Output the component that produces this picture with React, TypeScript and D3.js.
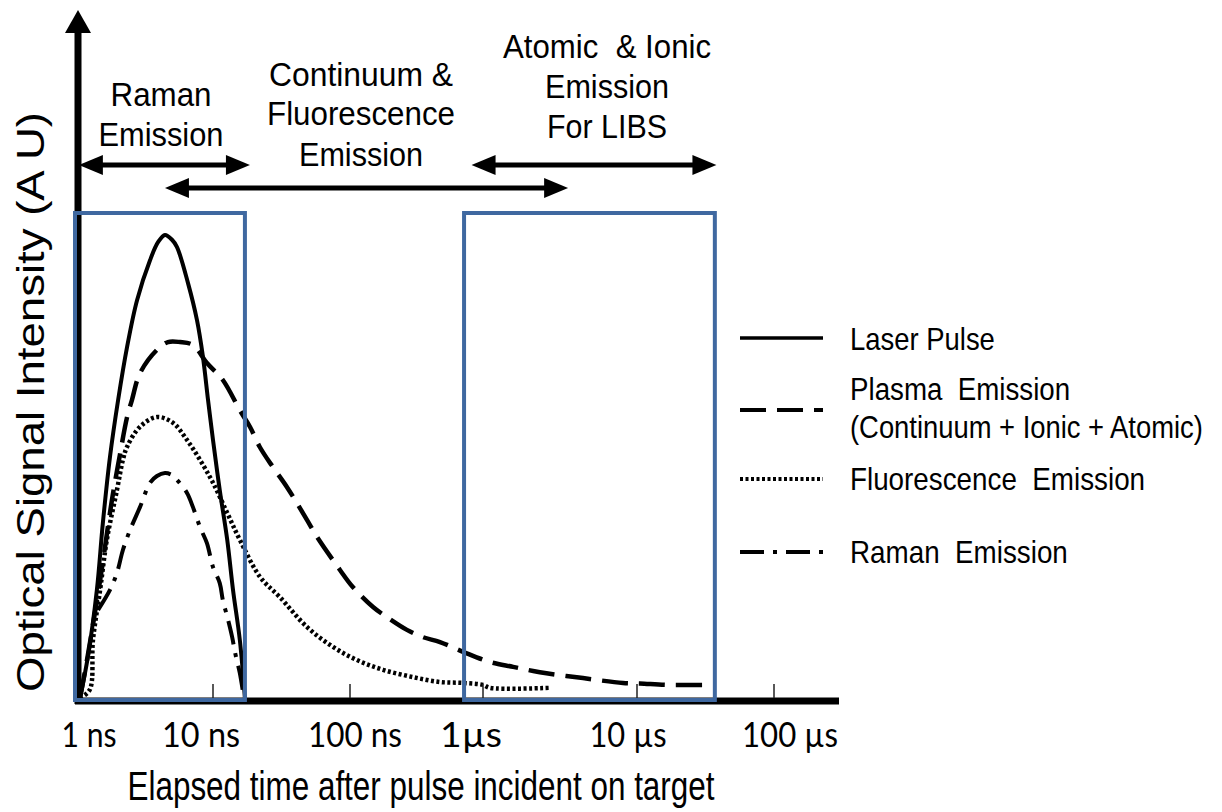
import React from "react";
import * as d3 from "d3";

// ---- data (time in ns, intensity in arbitrary units 0..100) ----
const laserPulse: [number, number][] = [
  [1.07, 0.4], [1.22, 8.8], [1.42, 22.6], [1.57, 36.3], [1.77, 49.9], [2.03, 61.6],
  [2.36, 72.5], [2.79, 82.1], [3.47, 90.3], [3.97, 94.0], [4.46, 95.5], [5.02, 94.5],
  [5.46, 93.0], [6.57, 85.6], [7.64, 78.0], [8.45, 70.4], [9.2, 61.6], [10.0, 53.4],
  [11.2, 43.1], [12.7, 32.9], [14.0, 22.6], [15.7, 12.3], [17.1, 0.4],
];
const plasmaEmission: [number, number][] = [
  [1.07, 0.4], [1.22, 9.2], [1.5, 24.6], [1.83, 41.1], [2.09, 50.3], [2.36, 58.1],
  [2.56, 61.6], [2.93, 67.1], [3.9, 71.9], [4.69, 73.5], [5.74, 73.5], [7.14, 72.9],
  [9.03, 69.2], [11.8, 65.7], [15.7, 59.5], [18.6, 56.1], [22.0, 51.9], [27.4, 47.8],
  [34.7, 43.7], [48.5, 37.0], [57.4, 33.5], [84.5, 26.7], [105, 23.2], [149, 19.1],
  [190, 17.0], [268, 14.4], [354, 12.9], [475, 11.9], [708, 9.9], [1110, 7.8],
  [1570, 6.8], [2340, 5.7], [4460, 4.5], [8110, 3.5], [10500, 3.4], [16600, 3.1],
  [34100, 3.1],
];
const fluorescenceEmission: [number, number][] = [
  [1.07, 0.4], [1.26, 2.1], [1.33, 12.3], [1.5, 22.6], [1.68, 32.9], [1.99, 43.1],
  [2.2, 49.3], [2.36, 52.0], [2.93, 56.1], [3.9, 58.1], [5.11, 56.9], [6.46, 53.4],
  [8.04, 49.3], [10, 44.6], [12.7, 38.4], [15.7, 32.9], [22.0, 25.3], [30.8, 21.1],
  [48.5, 15.0], [75.2, 10.9], [113, 8.2], [177, 6.2], [298, 4.7], [475, 3.7],
  [708, 3.5], [1000, 3.1], [1110, 2.5], [2720, 2.5],
];
const ramanEmission: [number, number][] = [
  [1.45, 18.5], [1.77, 22.6], [1.99, 26.1], [2.2, 30.8], [2.48, 34.9], [2.93, 39.6],
  [3.47, 44.6], [3.9, 46.0], [4.46, 46.6], [5.02, 46.2], [5.46, 45.2], [6.46, 42.5],
  [7.14, 39.6], [8.04, 35.5], [9.03, 32.2], [10, 27.3], [11.2, 24.0], [11.8, 20.5],
  [12.9, 16.4], [13.8, 12.9], [14.5, 9.7], [15.7, 5.5], [16.6, 1.4],
];

// gate windows (time ns) and their top intensity
const gateWindows: [number, number][] = [[1, 17.1], [733, 37000]];
const gateTop = 100;

// time-range arrows (ns)
const arrowRanges: [number, number][] = [[1.05, 18.6], [4.46, 3570], [820, 38000]];

const tickValues = [1, 10, 100, 1000, 10000, 100000];
const tickLabels = ["1 ns", "10 ns", "100 ns", "1µs", "10 µs", "100 µs"];

const annotationBlocks: string[][] = [
  ["Raman", "Emission"],
  ["Continuum &", "Fluorescence", "Emission"],
  ["Atomic  & Ionic", "Emission", "For LIBS"],
];

const legendItems = [
  { lines: ["Laser Pulse"], dash: "none" },
  { lines: ["Plasma  Emission", "(Continuum + Ionic + Atomic)"], dash: "26 11" },
  { lines: ["Fluorescence  Emission"], dash: "3 2.5" },
  { lines: ["Raman  Emission"], dash: "24 9 4 9" },
];

// ---- layout ----
const FONT = "'Liberation Sans Narrow','Arial Narrow','Liberation Sans',Arial,sans-serif";
const TICKFONT = "Lato,'Open Sans',sans-serif";
const BLUE = "#3f68a0";
const xRange = [76, 213, 350, 483, 637, 774];
const x = d3.scaleLog().domain(tickValues).range(xRange);
const y = d3.scaleLinear().domain([0, 100]).range([700, 213]);

const tickLabelOffsets = [13, -12, 5, -12, -9, 16];
const tickLabelWidths = [55, 78, 94, 62, 77, 96];

const annotCenters = [161, 361, 607];
const annotBaselines = [[106, 146], [86, 125, 166], [58, 98, 138]];
const annotWidths = [[101, 125], [184, 188, 124], [208, 124, 120]];
const arrowYs = [165, 188, 165];

const legendBaselines = [[350], [400, 438], [490], [563]];
const legendLineYs = [338, 410, 479, 552];
const legendScaleX = [[0.885], [0.894, 0.883], [0.897], [0.897]];

const curveStyles = [
  { data: laserPulse, dash: "none", w: 4 },
  { data: plasmaEmission, dash: "26 11", w: 4.5 },
  { data: fluorescenceEmission, dash: "3 2.5", w: 4.5 },
  { data: ramanEmission, dash: "24 9 4 9", w: 4 },
];

function DoubleArrow({ x1, x2, yy }: { x1: number; x2: number; yy: number }) {
  const L = 24, H = 10;
  return (
    <g>
      <line x1={x1 + L - 2} x2={x2 - L + 2} y1={yy} y2={yy} stroke="#000" strokeWidth={5} />
      <polygon points={`${x1},${yy} ${x1 + L},${yy - H} ${x1 + L},${yy + H}`} fill="#000" />
      <polygon points={`${x2},${yy} ${x2 - L},${yy - H} ${x2 - L},${yy + H}`} fill="#000" />
    </g>
  );
}

export default function App() {
  const line = d3
    .line<[number, number]>()
    .x((d) => x(d[0]))
    .y((d) => y(d[1]))
    .curve(d3.curveCatmullRom.alpha(0.5));

  return (
    <svg width={1222} height={812} style={{ position: "absolute", left: 0, top: 0, background: "#fff" }}>
      <rect width={1222} height={812} fill="#fff" />
      {/* curves */}
      {curveStyles.map((c, i) => (
        <path key={i} d={line(c.data) || ""} fill="none" stroke="#000" strokeWidth={c.w}
          strokeDasharray={c.dash} strokeLinejoin="round" />
      ))}
      {/* x axis */}
      <line x1={75} x2={839} y1={701} y2={701} stroke="#000" strokeWidth={7} />
      {tickValues.slice(1).map((t) => (
        <line key={t} x1={x(t)} x2={x(t)} y1={684} y2={698} stroke="#222" strokeWidth={1.5} />
      ))}
      {tickLabels.map((s, i) => (
        <text key={s} x={x(tickValues[i]) + tickLabelOffsets[i]} y={747} textAnchor="middle"
          fontFamily={TICKFONT} fontSize={35} fill="#000"
          textLength={tickLabelWidths[i]} lengthAdjust="spacingAndGlyphs">{s}</text>
      ))}
      {/* y axis */}
      <line x1={78} x2={78} y1={704} y2={30} stroke="#000" strokeWidth={7} />
      <polygon points={`78,10 65,33 91,33`} fill="#000" />
      {/* gate boxes */}
      {gateWindows.map(([a, b], i) => (
        <rect key={i} x={x(a) - 1} y={y(gateTop)} width={x(b) - x(a) + 1} height={y(0) - y(gateTop)}
          fill="none" stroke={BLUE} strokeWidth={4} />
      ))}
      {/* range arrows */}
      {arrowRanges.map(([a, b], i) => (
        <DoubleArrow key={i} x1={x(a)} x2={x(b)} yy={arrowYs[i]} />
      ))}
      {/* annotations */}
      {annotationBlocks.map((block, i) =>
        block.map((s, j) => (
          <text key={`${i}-${j}`} x={annotCenters[i]} y={annotBaselines[i][j]} textAnchor="middle"
            fontFamily={FONT} fontSize={34} fill="#000"
            textLength={annotWidths[i][j]} lengthAdjust="spacingAndGlyphs"
            style={{ whiteSpace: "pre" }}>{s}</text>
        ))
      )}
      {/* axis titles */}
      <text x={421} y={800} textAnchor="middle" fontFamily={FONT} fontSize={41} fill="#000"
        textLength={587} lengthAdjust="spacingAndGlyphs">Elapsed time after pulse incident on target</text>
      <text transform="translate(44,402) rotate(-90)" textAnchor="middle" fontFamily={FONT} fontSize={39}
        fill="#000" textLength={580} lengthAdjust="spacingAndGlyphs">Optical Signal Intensity (A U)</text>
      {/* legend */}
      {legendItems.map((it, i) => (
        <g key={i}>
          <line x1={740} x2={823} y1={legendLineYs[i]} y2={legendLineYs[i]} stroke="#000"
            strokeWidth={i === 0 ? 3.5 : 4} strokeDasharray={it.dash} />
          {it.lines.map((s, j) => (
            <text key={j} transform={`translate(850,${legendBaselines[i][j]}) scale(${legendScaleX[i][j]},1)`}
              fontFamily={FONT} fontSize={31} fill="#000"
              style={{ whiteSpace: "pre" }}>{s}</text>
          ))}
        </g>
      ))}
    </svg>
  );
}
